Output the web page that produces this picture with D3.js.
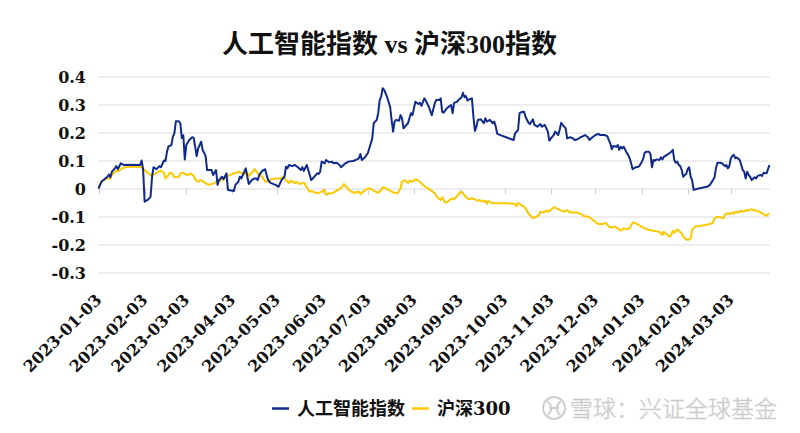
<!DOCTYPE html>
<html><head><meta charset="utf-8">
<script src="https://cdn.jsdelivr.net/npm/d3@7"></script>
<style>body{margin:0;background:#fff;overflow:hidden}</style>
</head><body><svg id="c" width="800" height="433"></svg>
<script>
const titleText = "人工智能指数 vs 沪深300指数";
const seriesNames = ["人工智能指数", "沪深300"];
const watermarkText = "雪球：兴证全球基金";
const startDate = "2023-01-03";
const yTicks = [-0.3, -0.2, -0.1, 0, 0.1, 0.2, 0.3, 0.4];
const xTickLabels = ["2023-01-03","2023-02-03","2023-03-03","2023-04-03","2023-05-03","2023-06-03","2023-07-03","2023-08-03","2023-09-03","2023-10-03","2023-11-03","2023-12-03","2024-01-03","2024-02-03","2024-03-03"];

// 人工智能指数: days after startDate, and cumulative return
const aiDays = [
0,2,4,6,7,8,9,11,12,13,
15,17,21,28,29,30,31,33,35,36,
37,39,41,42,44,45,46,47,49,50,
51,52,54,55,56,57,58,59,61,63,
64,66,67,69,70,72,73,76,77,79,
80,81,83,84,86,87,90,91,92,94,
95,96,98,99,100,101,103,105,106,107,
108,110,111,112,113,114,115,116,119,121,
123,125,126,127,128,130,132,134,136,137,
138,140,141,143,145,147,148,149,150,152,
153,155,157,158,160,162,163,166,168,171,
173,175,176,177,179,181,182,184,185,187,
188,189,190,191,192,193,194,196,197,198,
199,200,202,203,204,205,206,208,210,211,
213,215,216,217,219,220,222,224,226,227,
229,230,231,232,234,236,237,238,239,241,
242,244,245,246,247,248,249,251,252,253,
254,255,257,259,260,261,263,265,266,267,
268,271,274,277,279,280,282,283,284,286,
287,289,290,292,293,295,297,298,300,302,
303,305,306,307,309,310,311,312,314,315,
317,319,320,322,324,325,327,329,330,332,
334,336,337,340,342,343,344,345,346,348,
349,350,351,352,353,355,356,357,358,359,
361,363,364,366,367,368,370,371,372,373,
374,375,377,378,379,380,382,383,385,386,
387,388,389,390,391,392,393,394,395,396,
397,398,399,400,404,409,411,413,414,415,
416,418,419,421,422,423,424,425,426,427,
428,429,431,432,433,434,435,436,437,438,
439,441,442,443,445,446,447,449,450,451];
const aiValues = [
0,0.024,0.033,0.042,0.05,0.04,0.06,0.072,0.08,0.069,
0.09,0.084,0.085,0.084,0.10,0.066,-0.047,-0.041,-0.03,0.042,
0.076,0.069,0.08,0.076,0.10,0.098,0.13,0.15,0.155,0.185,
0.197,0.24,0.24,0.233,0.18,0.19,0.104,0.155,0.173,0.183,
0.181,0.116,0.143,0.167,0.138,0.116,0.066,0.066,0.048,0.066,
0.013,0.03,0.042,0.033,0.054,-0.005,-0.008,-0.009,0.013,0.024,
0.042,0.036,0.06,0.072,0.042,0.016,0.03,0.036,0.036,0.03,
0.048,0.063,0.066,0.069,0.048,0.03,0.024,0.019,0.013,0.006,
0.03,0.042,0.078,0.072,0.084,0.08,0.084,0.076,0.066,0.076,
0.063,0.084,0.066,0.03,0.042,0.054,0.052,0.06,0.096,0.09,
0.102,0.094,0.096,0.09,0.092,0.084,0.076,0.09,0.096,0.098,
0.102,0.108,0.123,0.102,0.111,0.126,0.143,0.179,0.233,0.245,
0.269,0.316,0.328,0.358,0.352,0.34,0.326,0.292,0.245,0.203,
0.239,0.245,0.242,0.262,0.251,0.215,0.221,0.233,0.269,0.262,
0.31,0.302,0.306,0.295,0.322,0.314,0.292,0.262,0.304,0.316,
0.316,0.322,0.274,0.271,0.286,0.295,0.298,0.269,0.306,0.31,
0.316,0.326,0.342,0.326,0.33,0.314,0.318,0.322,0.256,0.206,
0.221,0.245,0.247,0.233,0.251,0.239,0.245,0.233,0.239,0.221,
0.195,0.189,0.183,0.177,0.173,0.197,0.209,0.269,0.272,0.274,
0.256,0.235,0.23,0.247,0.227,0.221,0.23,0.221,0.227,0.203,
0.171,0.185,0.191,0.203,0.191,0.211,0.235,0.227,0.215,0.179,
0.183,0.179,0.173,0.176,0.183,0.185,0.191,0.183,0.173,0.183,
0.191,0.195,0.191,0.191,0.187,0.173,0.161,0.14,0.152,0.149,
0.155,0.138,0.149,0.143,0.149,0.128,0.12,0.108,0.09,0.069,
0.076,0.078,0.084,0.104,0.126,0.131,0.131,0.123,0.076,0.102,
0.099,0.104,0.102,0.111,0.104,0.113,0.12,0.123,0.131,0.138,
0.102,0.092,0.096,0.084,0.08,0.066,0.042,0.048,0.052,0.069,
0.076,0.042,0.03,-0.005,0.001,0.006,0.013,0.03,0.039,0.072,
0.092,0.092,0.09,0.08,0.084,0.072,0.08,0.108,0.116,0.12,
0.108,0.111,0.102,0.084,0.066,0.06,0.036,0.06,0.048,0.042,
0.03,0.04,0.036,0.045,0.048,0.045,0.056,0.054,0.069,0.084];

// 沪深300
const hsDays = [
0,1,3,6,8,9,11,12,14,16,
18,22,27,29,31,33,35,38,40,42,
44,45,47,48,50,51,54,55,57,58,
60,62,64,65,67,69,72,74,76,78,
80,82,85,87,90,92,94,96,98,100,
101,103,105,107,110,112,114,116,119,122,
124,126,128,129,132,133,135,138,139,141,
142,144,147,148,150,152,153,155,157,159,
161,163,165,166,168,170,172,175,176,178,
180,182,184,186,188,190,191,193,195,197,
199,201,203,204,206,208,209,211,213,215,
217,219,221,223,226,227,229,230,231,233,
235,236,238,239,241,242,244,245,247,249,
251,253,255,256,258,260,261,262,264,266,
271,275,280,281,282,284,286,287,289,291,
292,294,296,297,299,301,302,304,306,308,
309,311,313,315,316,318,320,322,324,326,
329,331,333,335,336,339,341,343,345,347,
349,351,353,355,357,359,360,362,363,365,
367,370,373,376,378,379,380,381,382,384,
385,386,387,389,390,392,393,395,396,398,
399,401,404,408,411,413,414,416,418,420,
421,422,424,426,427,428,430,432,433,436,
437,439,441,442,444,446,447,449,450,451];
const hsValues = [
0,0.019,0.03,0.036,0.036,0.048,0.06,0.063,0.063,0.072,
0.076,0.078,0.078,0.076,0.066,0.056,0.048,0.052,0.06,0.063,
0.056,0.036,0.048,0.056,0.052,0.04,0.042,0.054,0.056,0.052,
0.048,0.054,0.045,0.033,0.024,0.03,0.019,0.013,0.016,0.019,
0.03,0.028,0.036,0.045,0.052,0.056,0.06,0.056,0.052,0.056,
0.045,0.056,0.069,0.054,0.042,0.025,0.024,0.033,0.036,0.036,
0.04,0.03,0.019,0.028,0.019,0.024,0.016,0.021,0.013,-0.005,
-0.011,-0.011,-0.017,-0.015,-0.011,-0.005,-0.023,-0.017,-0.017,-0.011,
-0.005,0.001,0.016,0.009,-0.003,-0.011,-0.015,-0.011,-0.02,-0.011,
-0.003,0.001,-0.005,-0.011,-0.015,-0.005,0.004,0.001,-0.005,-0.011,
-0.015,-0.017,0.001,0.024,0.03,0.019,0.028,0.024,0.033,0.028,
0.019,0.009,0.001,-0.005,-0.017,-0.027,-0.037,-0.041,-0.031,-0.051,
-0.047,-0.041,-0.035,-0.039,-0.027,-0.02,-0.011,-0.017,-0.031,-0.039,
-0.035,-0.039,-0.044,-0.041,-0.047,-0.044,-0.055,-0.044,-0.051,-0.053,
-0.053,-0.053,-0.055,-0.063,-0.051,-0.059,-0.065,-0.071,-0.089,-0.101,
-0.106,-0.101,-0.095,-0.083,-0.086,-0.079,-0.083,-0.077,-0.067,-0.071,
-0.074,-0.079,-0.083,-0.077,-0.083,-0.086,-0.086,-0.086,-0.091,-0.098,
-0.101,-0.106,-0.115,-0.124,-0.127,-0.127,-0.122,-0.136,-0.139,-0.136,
-0.142,-0.151,-0.142,-0.146,-0.142,-0.122,-0.122,-0.127,-0.13,-0.136,
-0.142,-0.148,-0.151,-0.154,-0.158,-0.166,-0.154,-0.16,-0.163,-0.172,
-0.166,-0.151,-0.158,-0.146,-0.151,-0.16,-0.172,-0.181,-0.184,-0.178,
-0.148,-0.136,-0.134,-0.13,-0.127,-0.122,-0.106,-0.101,-0.103,-0.106,
-0.095,-0.089,-0.091,-0.086,-0.091,-0.083,-0.086,-0.079,-0.083,-0.077,
-0.079,-0.074,-0.079,-0.079,-0.083,-0.089,-0.091,-0.098,-0.091,-0.089];

const colors = ["#102a8c", "#fcc800"];

const parse = d3.timeParse("%Y-%m-%d");
const t0 = parse(startDate);
const toDate = n => d3.timeDay.offset(t0, n);
const aiData = aiDays.map((d, i) => ({date: toDate(d), v: aiValues[i]}));
const hsData = hsDays.map((d, i) => ({date: toDate(d), v: hsValues[i]}));

const svg = d3.select("#c");
const lastDay = Math.max(d3.max(aiDays), d3.max(hsDays));
const x = d3.scaleTime().domain([t0, toDate(lastDay)]).range([98.5, 769.5]);
const y = d3.scaleLinear().domain([-0.3, 0.4]).range([272.5, 76.5]);

// grid
svg.append("g").selectAll("line").data(yTicks).join("line")
  .attr("x1", 98).attr("x2", 770)
  .attr("y1", d => y(d) + 0.5).attr("y2", d => y(d) + 0.5)
  .attr("stroke", "#dcdcdc").attr("stroke-width", 1);

// y labels
svg.append("g").selectAll("text").data(yTicks).join("text")
  .attr("x", 86).attr("y", d => y(d)).attr("dy", "0.38em")
  .attr("text-anchor", "end")
  .style("font-family", "'DejaVu Serif', serif").style("font-weight", "bold")
  .style("font-size", "16px").attr("fill", "#111")
  .text(d => d === 0 ? "0" : d.toFixed(1));

// x ticks on the zero line
const tickDates = xTickLabels.map(parse);
svg.append("g").selectAll("line").data(tickDates).join("line")
  .attr("x1", d => Math.round(x(d)) + 0.5).attr("x2", d => Math.round(x(d)) + 0.5)
  .attr("y1", y(0)).attr("y2", y(0) + 6)
  .attr("stroke", "#d0d0d0").attr("stroke-width", 1);

// x labels
svg.append("g").selectAll("text").data(xTickLabels).join("text")
  .attr("transform", d => `translate(${x(parse(d)) + 4},301) rotate(-45)`)
  .attr("text-anchor", "end")
  .style("font-family", "'DejaVu Serif', serif").style("font-weight", "bold")
  .style("font-size", "16px").attr("fill", "#111")
  .text(d => d);

// lines
const line = d3.line().x(d => x(d.date)).y(d => y(d.v));
svg.append("path").datum(hsData).attr("d", line)
  .attr("fill", "none").attr("stroke", colors[1]).attr("stroke-width", 2).attr("stroke-linejoin", "round");
svg.append("path").datum(aiData).attr("d", line)
  .attr("fill", "none").attr("stroke", colors[0]).attr("stroke-width", 2).attr("stroke-linejoin", "round");

// title
svg.append("text").attr("x", 389.5).attr("y", 53).attr("text-anchor", "middle")
  .style("font-family", "'Liberation Serif', 'Noto Sans CJK SC', serif").style("font-weight", "bold")
  .style("font-size", "26px").attr("fill", "#111").text(titleText);

// legend
const legend = [{x: 272, name: seriesNames[0], c: colors[0]}, {x: 412, name: seriesNames[1], c: colors[1]}];
const lg = svg.append("g").selectAll("g").data(legend).join("g");
lg.append("line").attr("x1", d => d.x).attr("x2", d => d.x + 17).attr("y1", 408.5).attr("y2", 408.5)
  .attr("stroke", d => d.c).attr("stroke-width", 2.5);
lg.append("text").attr("x", d => d.x + 25).attr("y", 415)
  .style("font-family", "'DejaVu Serif', 'Noto Sans CJK SC', serif").style("font-weight", "bold")
  .style("font-size", "18px").attr("fill", "#111").text(d => d.name);

// watermark
const wm = svg.append("g");
wm.append("circle").attr("cx", 554).attr("cy", 408).attr("r", 11)
  .attr("fill", "none").attr("stroke", "#cfcfcf").attr("stroke-width", 2);
wm.append("path").attr("d", "M547,401 Q555,408 548,415 M561,401 Q553,408 560,415 M549,408 L559,408")
  .attr("fill", "none").attr("stroke", "#cfcfcf").attr("stroke-width", 2);
wm.append("text").attr("x", 570).attr("y", 417)
  .style("font-family", "'Noto Sans CJK SC', sans-serif").style("font-weight", "300")
  .style("font-size", "23px").attr("fill", "#d6d6d6").attr("stroke", "#c4c4c4").attr("stroke-width", 0.4)
  .text(watermarkText);
</script></body></html>
